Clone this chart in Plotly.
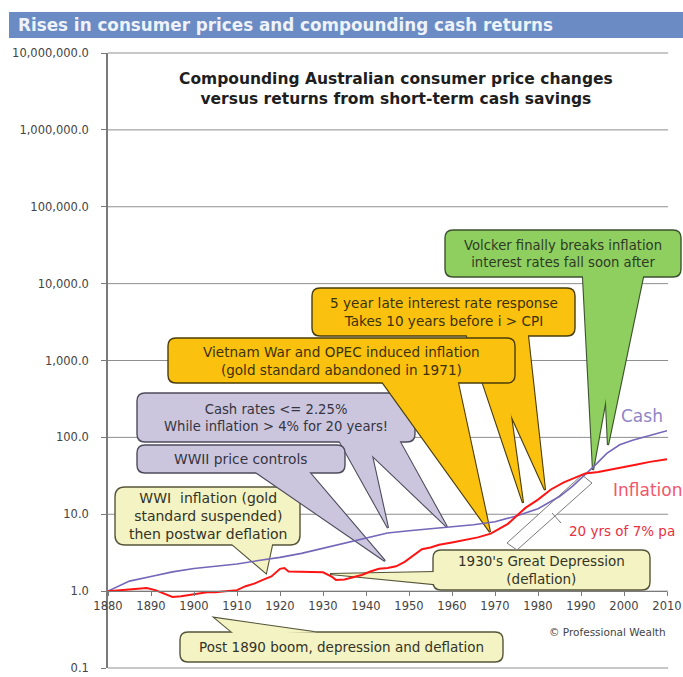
import math
import plotly.graph_objects as go

# ---- series (compound index, 1880 = 1.0) ----
cash_years = [1880, 1885, 1890, 1895, 1900, 1905, 1910, 1915, 1920, 1925, 1930, 1935,
              1940, 1945, 1950, 1955, 1960, 1965, 1970, 1975, 1980, 1985, 1988, 1990,
              1993, 1996, 1999, 2002, 2005, 2008, 2010]
cash_values = [1.00, 1.35, 1.55, 1.78, 1.97, 2.12, 2.25, 2.50, 2.75, 3.10, 3.60, 4.20,
               4.90, 5.70, 6.10, 6.50, 6.90, 7.30, 8.00, 9.50, 11.8, 17.0, 23.0, 29.0,
               42.0, 62.0, 80.0, 92.0, 103.0, 114.0, 122.0]

cpi_years = [1880, 1883, 1886, 1889, 1891, 1893, 1895, 1897, 1899, 1901, 1903, 1905,
             1907, 1910, 1912, 1914, 1916, 1918, 1920, 1921, 1922, 1925, 1928, 1930,
             1932, 1933, 1935, 1937, 1939, 1941, 1943, 1945, 1947, 1949, 1951, 1953,
             1955, 1957, 1960, 1963, 1966, 1969, 1971, 1973, 1975, 1977, 1980, 1983,
             1986, 1989, 1991, 1994, 1997, 2000, 2003, 2006, 2008, 2010]
cpi_values = [1.00, 1.04, 1.06, 1.10, 1.03, 0.93, 0.84, 0.86, 0.90, 0.94, 0.97, 0.97,
              1.00, 1.03, 1.16, 1.25, 1.40, 1.55, 1.95, 2.00, 1.80, 1.78, 1.78, 1.76,
              1.55, 1.40, 1.42, 1.50, 1.62, 1.80, 1.95, 2.00, 2.10, 2.40, 2.90, 3.50,
              3.70, 4.00, 4.30, 4.60, 5.00, 5.60, 6.50, 7.50, 9.50, 12.0, 15.5, 21.0,
              26.0, 31.0, 34.0, 35.5, 38.5, 41.0, 44.5, 48.0, 50.0, 52.0]

decade_ticks = list(range(1880, 2011, 10))
y_ticks = [0.1, 1, 10, 100, 1000, 10000, 100000, 1000000, 10000000]
Y_RANGE = [-1, 7]

FONT = "DejaVu Sans"

# ---- plot-area frame (pixels) used to place the decorations ----
L, T, R, B = 108, 53, 667, 668
W, H = R - L, B - T


def dom(x, y):
    return (x - L) / W, (B - y) / H


def poly_path(pts):
    out = []
    for i, (x, y) in enumerate(pts):
        u, v = dom(x, y)
        out.append(("M" if i == 0 else "L") + f"{u:.5f},{v:.5f}")
    return " ".join(out) + " Z"


def rrect_path(x0, y0, x1, y1, r):
    def p(x, y):
        u, v = dom(x, y)
        return f"{u:.5f},{v:.5f}"
    return (f"M{p(x0 + r, y0)} L{p(x1 - r, y0)} Q{p(x1, y0)} {p(x1, y0 + r)} "
            f"L{p(x1, y1 - r)} Q{p(x1, y1)} {p(x1 - r, y1)} L{p(x0 + r, y1)} "
            f"Q{p(x0, y1)} {p(x0, y1 - r)} L{p(x0, y0 + r)} Q{p(x0, y0)} {p(x0 + r, y0)} Z")


shapes = []
annotations = []

# horizontal gridlines, drawn underneath the callout boxes
for v in y_ticks:
    gy = (math.log10(v) - Y_RANGE[0]) / (Y_RANGE[1] - Y_RANGE[0])
    shapes.append(dict(type="line", xref="paper", yref="paper", layer="below",
                       x0=0, x1=1.002, y0=gy, y1=gy,
                       line=dict(color="#8f8f8f", width=1)))


def add_shape(path, fill, line_color, line_width):
    shapes.append(dict(type="path", path=path, xref="paper", yref="paper",
                       layer="below", fillcolor=fill,
                       line=dict(color=line_color, width=line_width)))


def note(x, y, text, size, color, xanchor="center"):
    u, v = dom(x, y)
    annotations.append(dict(x=u, y=v, xref="paper", yref="paper", text=text,
                            xanchor=xanchor, yanchor="middle",
                            showarrow=False, align="center",
                            font=dict(family=FONT, size=size, color=color)))


def callout(body, tails, fill, edge, text, size, color, radius=8):
    x0, y0, x1, y1 = body
    for b1, tip, b2 in tails:
        add_shape(poly_path([b1, tip, b2]), fill, edge, 2.2)
    add_shape(rrect_path(x0, y0, x1, y1, radius), fill, edge, 1.4)
    # re-fill the tails, pushed slightly into the body, to hide the seam
    for b1, tip, b2 in tails:
        ext = []
        for b in (b1, b2):
            dx, dy = b[0] - tip[0], b[1] - tip[1]
            n = math.hypot(dx, dy)
            ext.append((b[0] + dx / n * 3, b[1] + dy / n * 3))
        add_shape(poly_path([ext[0], tip, ext[1]]), fill, "rgba(0,0,0,0)", 0)
    note((x0 + x1) / 2, (y0 + y1) / 2, text, size, color)


CREAM, CREAM_EDGE = "#f3f3c4", "#55553a"
LAV, LAV_EDGE = "#cbc6de", "#4d4b5c"
GOLD, GOLD_EDGE = "#fbc10f", "#4a3c08"
GREEN, GREEN_EDGE = "#8fcf5f", "#3d5230"

callout((180, 632, 503, 662), [((232, 632), (215, 618), (314, 632))], CREAM, CREAM_EDGE,
        "Post 1890 boom, depression and deflation", 13.5, "#333326")
callout((433, 550, 650, 590), [((433, 572), (330, 574), (433, 584))], CREAM, CREAM_EDGE,
        "1930's Great Depression<br>(deflation)", 13.5, "#333326")
callout((115, 487, 300, 545), [((233, 545), (266, 573), (272, 545))], CREAM, CREAM_EDGE,
        "WWI  inflation (gold<br>standard suspended)<br>then postwar deflation", 14, "#333326",
        radius=10)
callout((137, 393, 415, 442), [((340, 442), (388, 528), (369, 442)),
                               ((358, 442), (447, 527), (400, 442))], LAV, LAV_EDGE,
        "Cash rates <= 2.25%<br>While inflation > 4% for 20 years!", 13.2, "#35343f")
callout((137, 445, 345, 473), [((257, 473), (385, 561), (310, 473))], LAV, LAV_EDGE,
        "WWII price controls", 13.8, "#35343f")
callout((312, 288, 575, 336), [((467, 336), (523, 503), (500, 336)),
                               ((475, 336), (545, 490), (528, 336))], GOLD, GOLD_EDGE,
        "5 year late interest rate response<br>Takes 10 years before i > CPI", 13.6, "#3a3208")
callout((168, 338, 515, 383), [((383, 383), (490, 532), (458, 383))], GOLD, GOLD_EDGE,
        "Vietnam War and OPEC induced inflation<br>(gold standard abandoned in 1971)",
        13.6, "#3a3208")
callout((445, 230, 681, 277), [((583, 277), (593, 470), (628, 277)),
                               ((600, 277), (608, 445), (643, 277))], GREEN, GREEN_EDGE,
        "Volcker finally breaks inflation<br>interest rates fall soon after", 13.2, "#2e3a26")

# outline marking the 20-year stretch
add_shape(poly_path([(507, 543), (582, 475), (592, 483), (517, 550)]),
          "rgba(255,255,255,0.85)", "#7a7a7a", 1)
x_a, y_a = dom(552, 513)
x_b, y_b = dom(561, 523)
shapes.append(dict(type="line", xref="paper", yref="paper", layer="below",
                   x0=x_a, y0=y_a, x1=x_b, y1=y_b, line=dict(color="#7a7a7a", width=1)))

# header banner
hx0, hy0 = dom(9, 12)
hx1, hy1 = dom(683, 38)
shapes.append(dict(type="rect", xref="paper", yref="paper", layer="above",
                   x0=hx0, y0=hy1, x1=hx1, y1=hy0, fillcolor="#6a8bc3",
                   line=dict(width=0)))
note(16, 25, "<b>Rises in consumer prices and compounding cash returns</b>", 16.8,
     "#eef2fa", xanchor="left")

# chart title
note(396, 89, "<b>Compounding Australian consumer price changes<br>"
              "versus returns from short-term cash savings</b>", 15.5, "#1e1e1e")

# series labels
note(642, 416, "Cash", 17, "#8f86c6")
note(647, 490, "Inflation", 17, "#f2566a")
note(622, 531, "20 yrs of 7% pa", 13.5, "#e8303f")
note(668, 632, "© Professional Wealth", 10.5, "#444444", xanchor="right")

fig = go.Figure()
fig.add_trace(go.Scatter(x=cash_years, y=cash_values, mode="lines", name="Cash",
                         line=dict(color="#7466b8", width=1.6), hoverinfo="skip"))
fig.add_trace(go.Scatter(x=cpi_years, y=cpi_values, mode="lines", name="Inflation",
                         line=dict(color="#ff1414", width=2), hoverinfo="skip"))

fig.update_layout(
    width=683, height=677,
    margin=dict(l=L, r=683 - R, t=T, b=677 - B, autoexpand=False),
    paper_bgcolor="white", plot_bgcolor="white",
    showlegend=False,
    shapes=shapes, annotations=annotations,
    xaxis=dict(range=[1880, 2010], tickvals=decade_ticks, showgrid=False, zeroline=False,
               showline=True, linecolor="#7a7a7a", linewidth=1.2, automargin=False,
               anchor="free", position=0.125,
               ticks="outside", ticklen=4, tickcolor="#7a7a7a",
               tickfont=dict(family=FONT, size=11.5, color="#444444")),
    yaxis=dict(type="log", range=Y_RANGE, tickvals=y_ticks, tickformat=",.1f",
               showgrid=False, automargin=False,
               showline=True, linecolor="#7a7a7a", linewidth=1.6,
               ticks="outside", ticklen=5, tickcolor="#7a7a7a", ticklabelstandoff=10,
               tickfont=dict(family=FONT, size=11.5, color="#444444")),
)

fig.write_html("out.html")
